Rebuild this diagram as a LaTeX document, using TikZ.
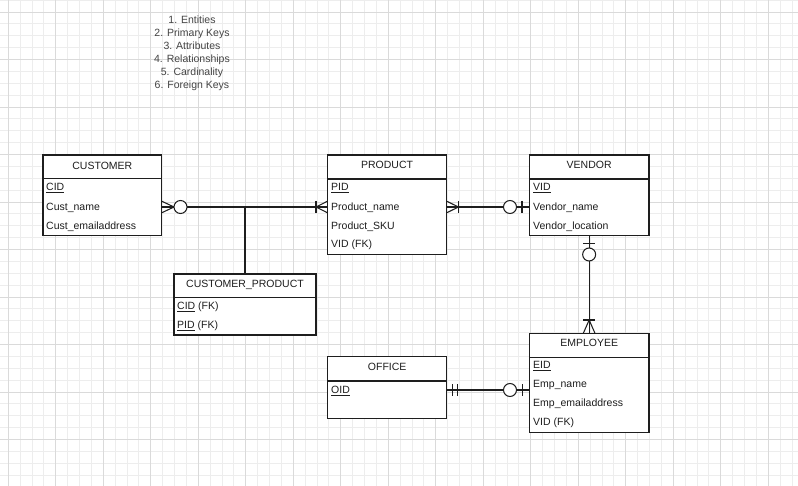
\documentclass[tikz,border=0pt]{standalone}
\usepackage{fontspec}
\setmainfont{Liberation Sans}
\definecolor{gminor}{HTML}{EDEDED}
\definecolor{gmajor}{HTML}{DADADA}
\definecolor{ink}{HTML}{1E1E1E}
\definecolor{listgray}{HTML}{444444}
\begin{document}
\begin{tikzpicture}[x=1pt,y=-1pt,
  ebox/.style={draw=ink, line width=1.05pt, fill=white, anchor=north west, inner sep=0pt, outer sep=0pt},
  eline/.style={draw=ink, line width=1.05pt},
  conn/.style={draw=ink, line width=1.05pt},
  htext/.style={font=\fontsize{10.5}{12}\selectfont, text=ink, inner sep=0pt, text height=7.5pt, text depth=0pt},
  rtext/.style={font=\fontsize{10.5}{12}\selectfont, text=ink, inner sep=0pt, anchor=west, text height=7.5pt, text depth=0pt},
  zcirc/.style={draw=ink, line width=1.05pt, fill=white, circle, minimum size=13pt, inner sep=0pt}]
\useasboundingbox (0,0) rectangle (798,486);
\fill[white] (0,0) rectangle (798,486);
% grid
\foreach \i in {-1,...,66} \draw[gminor, line width=0.8pt] ({8.2+11.875*\i},0) -- ++(0,486);
\foreach \i in {-1,...,40} \draw[gminor, line width=0.8pt] (0,{12+11.875*\i}) -- ++(798,0);
\foreach \i in {0,...,16} \draw[gmajor, line width=0.9pt] ({8.2+47.5*\i},0) -- ++(0,486);
\foreach \i in {0,...,10} \draw[gmajor, line width=0.9pt] (0,{12+47.5*\i}) -- ++(798,0);

% legend list
\node[font=\fontsize{10.5}{13}\selectfont, text=listgray, align=center, inner sep=0pt] (legend) at (192,53)
  {1. Entities\\2. Primary Keys\\3. Attributes\\4. Relationships\\5. Cardinality\\6. Foreign Keys};

% CUSTOMER
\node[ebox, minimum width=118.7pt, minimum height=80.7pt] (cust) at (43,155) {};
\node[htext] (custh) at (102.35,165.5) {CUSTOMER};
\draw[eline] (43,178.5) -- (161.7,178.5);
\node[rtext] (cid) at (46,187) {\underline{CID}};
\node[rtext] (cname) at (46,207) {Cust\_name};
\node[rtext] (cmail) at (46,225.5) {Cust\_emailaddress};

% PRODUCT
\node[ebox, minimum width=119.2pt, minimum height=99.3pt] (prod) at (327.5,155) {};
\node[htext] (prodh) at (387.1,164.5) {PRODUCT};
\draw[eline] (327.5,179) -- (446.7,179);
\node[rtext] (pid) at (331,187) {\underline{PID}};
\node[rtext] (pname) at (331,207) {Product\_name};
\node[rtext] (psku) at (331,225.5) {Product\_SKU};
\node[rtext] (pvid) at (331,244) {VID (FK)};

% VENDOR
\node[ebox, minimum width=119.7pt, minimum height=80.7pt] (vend) at (529.3,155) {};
\node[htext] (vendh) at (589.15,164.5) {VENDOR};
\draw[eline] (529.3,179) -- (649,179);
\node[rtext] (vid) at (533,187) {\underline{VID}};
\node[rtext] (vname) at (533,207) {Vendor\_name};
\node[rtext] (vloc) at (533,225.5) {Vendor\_location};

% CUSTOMER_PRODUCT
\node[ebox, minimum width=142pt, minimum height=61pt] (cp) at (174,274) {};
\node[htext] (cph) at (245,284) {CUSTOMER\_PRODUCT};
\draw[eline] (174,297.5) -- (316,297.5);
\node[rtext] (cpcid) at (177,306) {\underline{CID} (FK)};
\node[rtext] (cppid) at (177,325) {\underline{PID} (FK)};

% OFFICE
\node[ebox, minimum width=119pt, minimum height=61.6pt] (off) at (327.7,356.7) {};
\node[htext] (offh) at (387.2,366.7) {OFFICE};
\draw[eline] (327.7,381) -- (446.7,381);
\node[rtext] (oid) at (331,390) {\underline{OID}};

% EMPLOYEE
\node[ebox, minimum width=119.7pt, minimum height=99.4pt] (emp) at (529.3,333.3) {};
\node[htext] (emph) at (589.15,343) {EMPLOYEE};
\draw[eline] (529.3,357.7) -- (649,357.7);
\node[rtext] (eid) at (533,365) {\underline{EID}};
\node[rtext] (ename) at (533,384) {Emp\_name};
\node[rtext] (email) at (533,403) {Emp\_emailaddress};
\node[rtext] (evid) at (533,422) {VID (FK)};

% ---- connectors ----
% CUSTOMER -- PRODUCT (zero or many : one or many)
\draw[conn] (cust.east |- cname) -- (prod.west |- cname);
\draw[conn] (161.7,201.2) -- (174,207) -- (161.7,212.8);
\node[zcirc] (c1) at (180.5,207) {};
\draw[conn] (316,201) -- (316,213);
\draw[conn] (327.5,201.2) -- (316,207) -- (327.5,212.8);
% junction to CUSTOMER_PRODUCT
\draw[conn] (cp.north) -- (cp.north |- cname);

% PRODUCT -- VENDOR (one or many : zero or one)
\draw[conn] (prod.east |- pname) -- (vend.west |- pname);
\draw[conn] (446.7,201.2) -- (458.5,207) -- (446.7,212.8);
\draw[conn] (458.5,201) -- (458.5,213);
\node[zcirc] (c2) at (510,207) {};
\draw[conn] (522,201) -- (522,213);

% VENDOR -- EMPLOYEE (zero or one : one or many)
\draw[conn] (vend.south) -- (emp.north);
\draw[conn] (583,243.3) -- (595.3,243.3);
\node[zcirc] (c3) at (589.15,254.5) {};
\draw[conn] (583,320) -- (595.3,320);
\draw[conn] (583.3,333.3) -- (589.15,320) -- (595,333.3);

% OFFICE -- EMPLOYEE (one and only one : zero or one)
\draw[conn] (off.east |- oid) -- (emp.west |- oid);
\draw[conn] (452.3,384) -- (452.3,396);
\draw[conn] (457.7,384) -- (457.7,396);
\node[zcirc] (c4) at (510,390) {};
\draw[conn] (522.7,384) -- (522.7,396);
\end{tikzpicture}
\end{document}
